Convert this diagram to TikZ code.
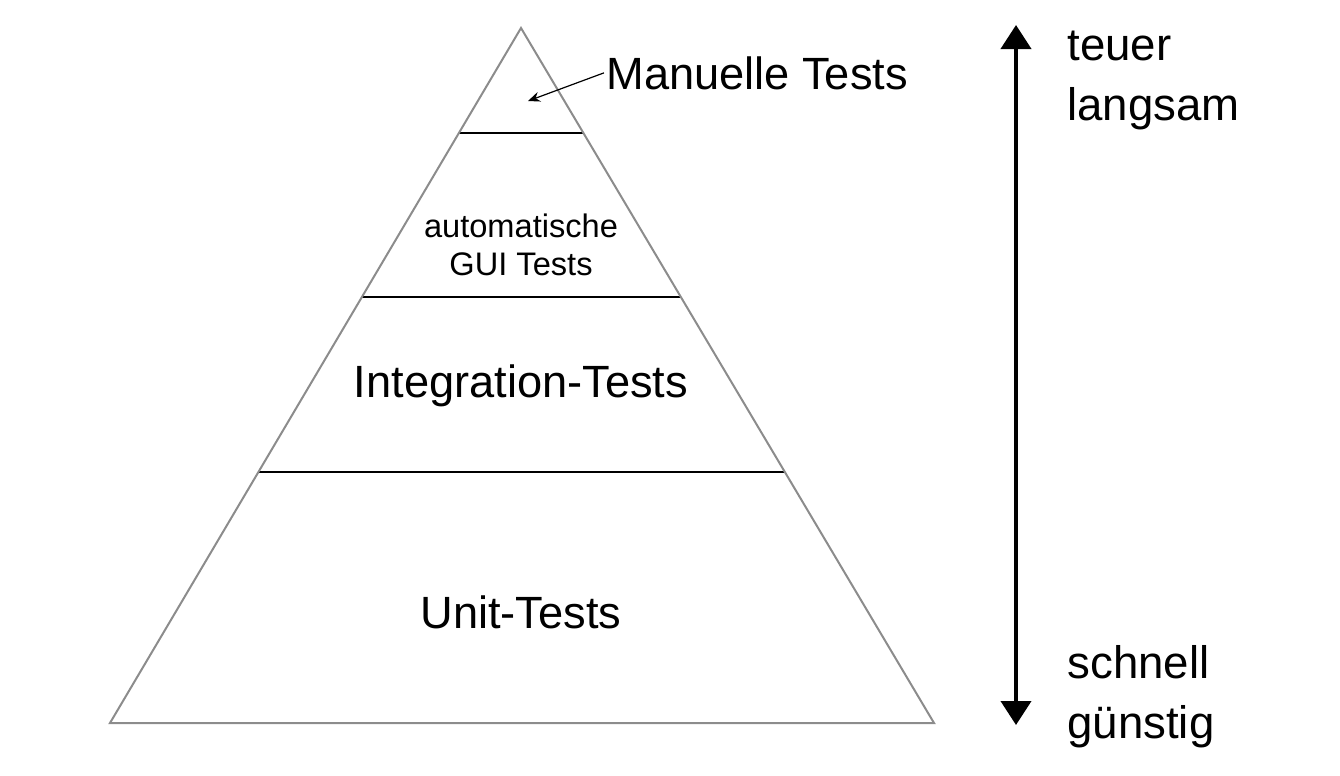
\documentclass[tikz,border=0pt]{standalone}
\usepackage{fontspec}
\setmainfont{Liberation Sans}
\usetikzlibrary{arrows.meta,calc}
\definecolor{pyrgray}{RGB}{140,140,140}
\begin{document}
\begin{tikzpicture}[x=0.5pt,y=-0.5pt,
  pyr/.style={draw=pyrgray,line width=1pt,line join=miter},
  layer/.style={draw=black,line width=1pt},
  big/.style={font=\fontsize{22.6}{26}\selectfont,inner sep=0pt},
  small/.style={font=\fontsize{16.3}{19}\selectfont,inner sep=0pt,align=center},
  side/.style={font=\fontsize{22.8}{30}\selectfont,inner sep=0pt,align=left,anchor=base west},
  bigarrow/.style={line width=2pt,{Triangle[width=15pt,length=12pt]}-{Triangle[width=15pt,length=12pt]}},
  smallarrow/.style={line width=0.6pt,-{Stealth[length=6pt,width=5pt]}}]
\useasboundingbox (0,0) rectangle (1340,776);
\coordinate (apex) at (521,28);
\coordinate (bl) at (110,723);
\coordinate (br) at (934,723);
% layer boundaries
\coordinate (l1a) at ($(apex)!{105/695}!(bl)$);
\coordinate (l1b) at ($(apex)!{105/695}!(br)$);
\coordinate (l2a) at ($(apex)!{269/695}!(bl)$);
\coordinate (l2b) at ($(apex)!{269/695}!(br)$);
\coordinate (l3a) at ($(apex)!{444/695}!(bl)$);
\coordinate (l3b) at ($(apex)!{444/695}!(br)$);
\draw[layer] (l1a) -- (l1b);
\draw[layer] (l2a) -- (l2b);
\draw[layer] (l3a) -- (l3b);
\draw[pyr] (apex) -- (bl) -- (br) -- cycle;
% labels
\node[big,anchor=base west] (man) at (606,89) {Manuelle Tests};
\coordinate (mtip) at (528,101);
\draw[smallarrow] ([xshift=-1pt]man.west) -- (mtip);
\node[small,anchor=base] (gui) at (521,275) {automatische\\GUI Tests};
\node[big,anchor=base] (integ) at (521,397) {Integration-Tests};
\node[big,anchor=base] (unit) at (521,628) {Unit-Tests};
% right scale
\coordinate (atop) at (1016,25);
\coordinate (abot) at (1016,725);
\draw[bigarrow] (atop) -- (abot);
\node[side] (expensive) at (1067,120) {teuer\\langsam};
\node[side] (cheap) at (1067,738) {schnell\\günstig};
\end{tikzpicture}
\end{document}
